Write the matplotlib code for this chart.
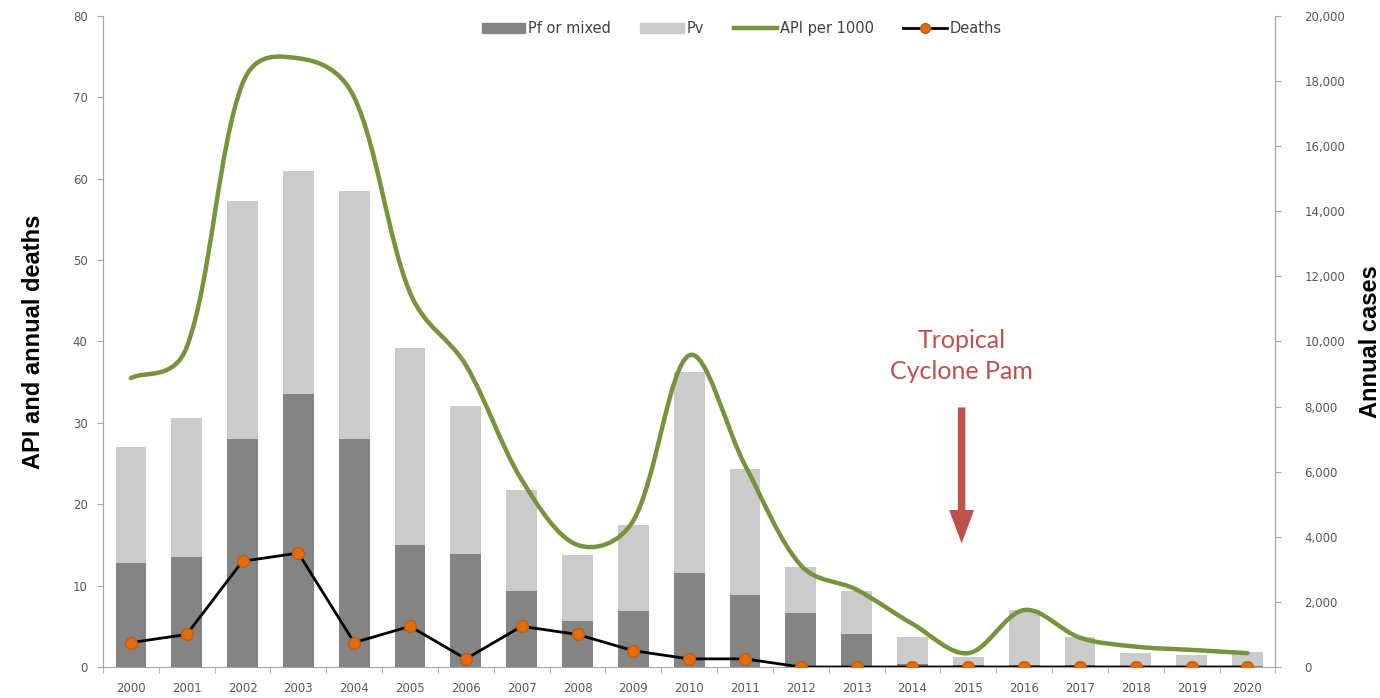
import numpy as np
import matplotlib
matplotlib.use("Agg")
import matplotlib.pyplot as plt
from matplotlib.path import Path
from matplotlib.patches import PathPatch, Patch
from matplotlib.lines import Line2D
from matplotlib.ticker import FuncFormatter

# Data
years = list(range(2000, 2021))
pf_cases = [3200, 3375, 7000, 8375, 7000, 3750, 3475, 2350, 1400, 1725,
            2900, 2200, 1650, 1000, 100, 50, 75, 50, 25, 25, 25]
total_cases = [6750, 7650, 14325, 15250, 14625, 9800, 8025, 5450, 3450, 4350,
               9075, 6075, 3075, 2325, 925, 300, 1750, 925, 425, 375, 450]
api = [35.5, 39.3, 71.7, 74.8, 70.0, 46.0, 37.1, 23.0, 15.0, 18.0,
       38.3, 24.8, 12.5, 9.5, 5.3, 1.7, 7.0, 3.6, 2.5, 2.1, 1.7]
deaths = [3, 4, 13, 14, 3, 5, 1, 5, 4, 2, 1, 1, 0, 0, 0, 0, 0, 0, 0, 0, 0]

pv_cases = [t - p for t, p in zip(total_cases, pf_cases)]

# Colours
c_pf = '#848484'
c_pv = '#cbcbcb'
c_api = '#77933c'
c_death = '#e46c0a'
c_tick = '#595959'
c_spine = '#a6a6a6'
c_red = '#c0504d'

x = np.arange(len(years))

fig = plt.figure(figsize=(13.8, 6.98), dpi=100)
ax = fig.add_axes([0.0746, 0.0444, 0.8496, 0.9327])
ax2 = ax.twinx()
ax.set_zorder(ax2.get_zorder() + 1)
ax.patch.set_visible(False)

# Stacked bars on the cases axis
ax2.bar(x, pf_cases, width=0.55, color=c_pf, edgecolor='none')
ax2.bar(x, pv_cases, width=0.55, bottom=pf_cases, color=c_pv, edgecolor='none')

# Smoothed API line: bezier through the points, handles partly weighted by
# segment length (in pixels) so short segments don't overshoot
sx, sy = 55.86, 8.14
mix = 0.5
pts = np.column_stack([x * sx, np.array(api) * sy]).astype(float)
n = len(pts)
verts = [tuple(pts[0])]
codes = [Path.MOVETO]
for i in range(n - 1):
    p0 = pts[max(i - 1, 0)]
    p1 = pts[i]
    p2 = pts[i + 1]
    p3 = pts[min(i + 2, n - 1)]
    d01 = np.hypot(*(p1 - p0))
    d12 = np.hypot(*(p2 - p1))
    d23 = np.hypot(*(p3 - p2))
    f1 = d12 / (d01 + d12) if d01 + d12 > 0 else 0.5
    f2 = d12 / (d12 + d23) if d12 + d23 > 0 else 0.5
    f1 = mix * f1 + (1 - mix) * 0.5
    f2 = mix * f2 + (1 - mix) * 0.5
    c1 = p1 + (p2 - p0) * f1 / 3.0
    c2 = p2 - (p3 - p1) * f2 / 3.0
    verts += [tuple(c1), tuple(c2), tuple(p2)]
    codes += [Path.CURVE4] * 3
verts = [(vx / sx, vy / sy) for vx, vy in verts]
ax.add_patch(PathPatch(Path(verts, codes), fill=False, edgecolor=c_api,
                       lw=3.2, capstyle='round', zorder=3))

# Deaths
ax.plot(x, deaths, color='black', lw=2.0, marker='o', ms=8.5,
        markerfacecolor=c_death, markeredgecolor='#c55a11', mew=1.0, zorder=4)

# Axes limits and ticks
ax.set_xlim(-0.5, 20.5)
ax.set_ylim(0, 80)
ax2.set_ylim(0, 20000)
ax.set_yticks(range(0, 81, 10))
ax2.set_yticks(range(0, 20001, 2000))
ax2.yaxis.set_major_formatter(FuncFormatter(lambda v, p: f'{int(v):,}'))

ax.set_xticks(x)
ax.set_xticklabels([str(y) for y in years])
ax.set_xticks(np.arange(-0.5, 21, 1), minor=True)
ax.tick_params(axis='x', which='major', length=0, labelsize=8.5,
               labelcolor=c_tick, pad=11)
ax.tick_params(axis='x', which='minor', length=4, color=c_spine, direction='out')
ax.tick_params(axis='y', length=4, color=c_spine, labelsize=8.5,
               labelcolor=c_tick, pad=7)
ax2.tick_params(axis='y', length=4, color=c_spine, labelsize=8.5,
                labelcolor=c_tick, pad=17)

for a in (ax, ax2):
    a.spines['top'].set_visible(False)
    for s in ('left', 'right', 'bottom'):
        a.spines[s].set_color(c_spine)
ax2.spines['bottom'].set_visible(False)

lab_font = dict(family=['Liberation Sans Narrow', 'Liberation Sans'],
                fontsize=17, fontweight='bold')
ax.set_ylabel('API and annual deaths', labelpad=20, **lab_font)
ax2.set_ylabel('Annual cases', labelpad=10, **lab_font)

# Annotation for Tropical Cyclone Pam
ax.text(14.88, 38.2, 'Tropical\nCyclone Pam', color=c_red, fontsize=18,
        ha='center', va='center', linespacing=1.45,
        family=['Lato', 'DejaVu Sans'])
ax.annotate('', xy=(14.88, 15.2), xytext=(14.88, 31.9),
            arrowprops=dict(width=5.4, headwidth=18, headlength=24,
                            facecolor=c_red, edgecolor='none',
                            shrink=0.0))

# Legend
handles = [Patch(color=c_pf, label='Pf or mixed'),
           Patch(color=c_pv, label='Pv'),
           Line2D([], [], color=c_api, lw=3.2, label='API per 1000'),
           Line2D([], [], color='black', lw=2, marker='o', ms=7,
                  markerfacecolor=c_death, markeredgecolor='#c55a11',
                  label='Deaths')]
leg = ax.legend(handles=handles, loc='upper center', bbox_to_anchor=(0.545, 1.012),
                ncol=4, frameon=False, fontsize=10.5, handlelength=3,
                handletextpad=0.2, columnspacing=2.0)
for t in leg.get_texts():
    t.set_color('#404040')

fig.savefig('out.png', dpi=100)
